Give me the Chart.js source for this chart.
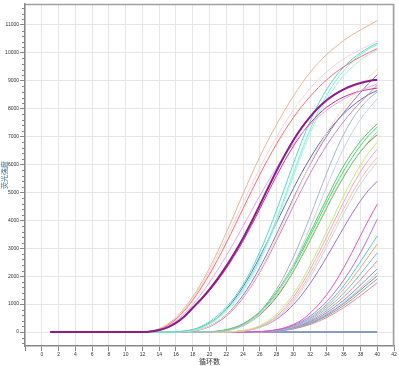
<!DOCTYPE html>
<html>
<head>
<meta charset="utf-8">
<script src="https://cdn.jsdelivr.net/npm/chart.js@4.4.1/dist/chart.umd.min.js"></script>
<style>
  html, body { margin: 0; padding: 0; background: #fff; }
  #wrap { width: 399px; height: 366px; }
</style>
</head>
<body>
<div id="wrap"><canvas id="qpcr"></canvas></div>
<script>
// ciclos y marcas de ejes
const cycles = [1,2,3,4,5,6,7,8,9,10,11,12,13,14,15,16,17,18,19,20,21,22,23,24,25,26,27,28,29,30,31,32,33,34,35,36,37,38,39,40];
const xTicks = [-2,0,2,4,6,8,10,12,14,16,18,20,22,24,26,28,30,32,34,36,38,40,42];
const yTicks = [0,1000,2000,3000,4000,5000,6000,7000,8000,9000,10000,11000];

// grupo temprano
const purpleA = [0,0,0,0,0,0,0,0,0,0,0,0,20,70,170,330,560,870,1180,1530,1920,2360,2840,3360,3940,4550,5170,5780,6350,6870,7320,7710,8040,8310,8520,8690,8820,8920,8990,9040];
const orangeA = [0,0,0,0,0,0,0,0,0,0,0,10,40,120,280,520,850,1260,1740,2290,2900,3560,4250,4950,5630,6280,6880,7430,7960,8450,8900,9300,9650,9950,10210,10440,10640,10820,10990,11150];
const redA = [0,0,0,0,0,0,0,0,0,0,0,5,30,100,240,460,760,1140,1580,2070,2610,3190,3800,4420,5040,5640,6210,6740,7230,7680,8080,8440,8760,9040,9290,9500,9690,9860,10010,10150];
const pinkA = [0,0,0,0,0,0,0,0,0,0,0,5,30,100,250,480,800,1200,1660,2180,2750,3360,3990,4630,5260,5870,6450,6990,7490,7950,8360,8730,9050,9330,9570,9780,9960,10120,10270,10420];
const lavenderA = [0,0,0,0,0,0,0,0,0,0,0,0,20,80,200,390,650,980,1360,1780,2240,2730,3250,3790,4340,4880,5400,5890,6340,6750,7110,7430,7710,7950,8160,8340,8500,8640,8770,8890];
const crimsonA = [0,0,0,0,0,0,0,0,0,0,0,0,15,60,160,320,540,840,1140,1480,1860,2280,2750,3260,3820,4410,5010,5600,6150,6660,7100,7480,7800,8060,8260,8420,8540,8630,8690,8740];

// grupo B
const cyan1 = [0,0,0,0,0,0,0,0,0,0,0,0,0,0,0,10,35,90,200,370,600,890,1250,1700,2240,2870,3580,4370,5200,6030,6830,7550,8180,8710,9140,9490,9770,10000,10190,10350];
const cyan2 = [0,0,0,0,0,0,0,0,0,0,0,0,0,0,0,5,25,70,160,310,520,790,1120,1530,2030,2620,3300,4060,4870,5700,6510,7260,7930,8500,8970,9360,9680,9940,10140,10300];
const cyan3 = [0,0,0,0,0,0,0,0,0,0,0,0,0,0,0,5,20,60,140,280,480,740,1060,1470,1960,2540,3210,3960,4760,5580,6380,7120,7780,8340,8800,9180,9490,9740,9940,10100];
const peachB = [0,0,0,0,0,0,0,0,0,0,0,0,0,0,0,0,10,40,100,210,380,610,900,1260,1690,2190,2760,3380,4040,4720,5390,6030,6620,7150,7620,8030,8400,8780,9120,9430];
const violetB = [0,0,0,0,0,0,0,0,0,0,0,0,0,0,0,0,10,40,100,210,380,620,930,1320,1780,2310,2890,3510,4150,4790,5410,6000,6540,7030,7470,7860,8230,8580,8910,9220];
const pinkB = [0,0,0,0,0,0,0,0,0,0,0,0,0,0,0,0,10,35,90,190,350,570,860,1220,1650,2140,2690,3280,3890,4510,5110,5680,6210,6700,7140,7540,7900,8230,8540,8840];
const slateB = [0,0,0,0,0,0,0,0,0,0,0,0,0,0,0,10,30,80,170,320,530,820,1180,1620,2130,2700,3300,3920,4540,5140,5710,6230,6710,7130,7500,7820,8090,8320,8510,8650];
const grayB1 = [0,0,0,0,0,0,0,0,0,0,0,0,0,0,0,0,0,0,0,0,20,60,140,270,470,740,1090,1530,2060,2680,3380,4140,4930,5710,6440,7080,7610,8030,8360,8600];
const grayB2 = [0,0,0,0,0,0,0,0,0,0,0,0,0,0,0,0,0,0,0,0,15,45,110,220,390,630,950,1350,1840,2410,3050,3750,4480,5220,5930,6580,7140,7620,8010,8350];

// grupo C (verdes)
const green1 = [0,0,0,0,0,0,0,0,0,0,0,0,0,0,0,0,0,0,0,10,35,85,170,300,490,740,1060,1440,1890,2400,2960,3560,4180,4800,5400,5960,6420,6830,7170,7460];
const green2 = [0,0,0,0,0,0,0,0,0,0,0,0,0,0,0,0,0,0,0,5,30,75,155,280,460,700,1010,1380,1820,2320,2870,3450,4050,4650,5230,5770,6250,6680,7040,7340];
const green3 = [0,0,0,0,0,0,0,0,0,0,0,0,0,0,0,0,0,0,0,5,25,65,140,255,420,650,940,1300,1720,2200,2740,3310,3900,4490,5060,5590,6060,6480,6840,7180];
const oliveC = [0,0,0,0,0,0,0,0,0,0,0,0,0,0,0,0,0,0,0,5,20,55,120,230,390,610,900,1250,1680,2170,2710,3280,3870,4460,5030,5560,6040,6460,6800,7070];

// grupo D
const ygD = [0,0,0,0,0,0,0,0,0,0,0,0,0,0,0,0,0,0,0,0,0,5,20,55,120,230,400,640,960,1360,1840,2390,2990,3620,4260,4880,5460,5980,6430,6800];
const pinkD = [0,0,0,0,0,0,0,0,0,0,0,0,0,0,0,0,0,0,0,0,0,5,15,45,100,200,350,570,870,1250,1710,2240,2820,3430,4050,4660,5230,5740,6180,6550];
const peachD = [0,0,0,0,0,0,0,0,0,0,0,0,0,0,0,0,0,0,0,0,0,5,15,40,90,180,320,520,800,1160,1590,2090,2640,3230,3830,4420,4970,5470,5900,6250];
const blueD = [0,0,0,0,0,0,0,0,0,0,0,0,0,0,0,0,0,0,0,0,0,0,10,35,80,160,290,480,740,1080,1490,1970,2500,3070,3660,4240,4790,5290,5720,6080];
const purpleD = [0,0,0,0,0,0,0,0,0,0,0,0,0,0,0,0,0,0,0,0,0,5,15,40,90,170,290,460,690,980,1330,1740,2200,2700,3220,3740,4240,4700,5090,5400];

// grupo tardío
const magentaE = [0,0,0,0,0,0,0,0,0,0,0,0,0,0,0,0,0,0,0,0,0,0,0,0,5,15,40,85,160,270,430,680,980,1350,1790,2300,2860,3450,4030,4580];
const violetE = [0,0,0,0,0,0,0,0,0,0,0,0,0,0,0,0,0,0,0,0,0,0,0,0,5,15,35,75,140,240,380,570,810,1100,1450,1860,2320,2840,3420,4040];
const cyanE = [0,0,0,0,0,0,0,0,0,0,0,0,0,0,0,0,0,0,0,0,0,0,0,0,0,10,30,65,125,215,340,510,730,990,1300,1660,2070,2520,2980,3440];
const orangeE = [0,0,0,0,0,0,0,0,0,0,0,0,0,0,0,0,0,0,0,0,0,0,0,0,0,10,25,60,115,200,320,480,680,920,1200,1530,1900,2310,2730,3150];
const skyE = [0,0,0,0,0,0,0,0,0,0,0,0,0,0,0,0,0,0,0,0,0,0,0,0,0,10,25,55,105,180,290,440,630,850,1100,1390,1720,2080,2460,2840];
const roseE = [0,0,0,0,0,0,0,0,0,0,0,0,0,0,0,0,0,0,0,0,0,0,0,0,0,5,20,50,95,165,265,400,570,770,1000,1260,1550,1870,2210,2550];
const steelE1 = [0,0,0,0,0,0,0,0,0,0,0,0,0,0,0,0,0,0,0,0,0,0,0,0,0,5,20,45,90,155,245,370,520,700,910,1140,1400,1680,1970,2260];
const steelE2 = [0,0,0,0,0,0,0,0,0,0,0,0,0,0,0,0,0,0,0,0,0,0,0,0,0,5,15,40,80,140,225,340,480,650,840,1060,1300,1560,1840,2120];
const brownE = [0,0,0,0,0,0,0,0,0,0,0,0,0,0,0,0,0,0,0,0,0,0,0,0,0,0,15,40,80,140,220,330,460,620,810,1020,1250,1500,1760,2010];
const tealE = [0,0,0,0,0,0,0,0,0,0,0,0,0,0,0,0,0,0,0,0,0,0,0,0,0,0,15,35,70,125,200,300,425,575,750,950,1170,1410,1660,1900];
const pinkE = [0,0,0,0,0,0,0,0,0,0,0,0,0,0,0,0,0,0,0,0,0,0,0,0,0,0,10,30,60,110,180,270,385,525,690,875,1080,1300,1530,1770];

// control negativo
const flatNeg = [0,0,0,0,0,0,0,0,0,0,0,0,0,0,0,0,0,0,0,0,0,0,0,0,0,0,0,0,0,0,0,0,0,0,0,0,0,0,0,0];

// [datos, color, grosor] - el primero queda encima
const lines = [
  [purpleA, '#8e1b8e', 2],
  [orangeA, '#eeb48c', 1],
  [redA, '#ff6b6b', 1],
  [pinkA, '#ffcfe0', 1],
  [lavenderA, '#dfa8ee', 1],
  [crimsonA, '#d0357c', 1],
  [cyan1, '#4fe0c0', 1],
  [cyan2, '#7ff0d8', 1],
  [cyan3, '#a8f0e8', 1],
  [peachB, '#ffd9b0', 1],
  [violetB, '#8c78d8', 1],
  [pinkB, '#d080c8', 1],
  [slateB, '#6868b8', 1],
  [grayB1, '#a8b4cc', 1],
  [grayB2, '#c8d2e2', 1],
  [green1, '#55cc55', 1],
  [green2, '#33dd77', 1],
  [green3, '#99e699', 1],
  [oliveC, '#a07850', 1],
  [ygD, '#b8f070', 1],
  [pinkD, '#ff9ccc', 1],
  [peachD, '#f8c0a0', 1],
  [blueD, '#c4d4ec', 1],
  [purpleD, '#a070d8', 1],
  [magentaE, '#f050c0', 1],
  [violetE, '#b070e8', 1],
  [cyanE, '#50c8e8', 1],
  [orangeE, '#f0a860', 1],
  [skyE, '#70b8ff', 1],
  [roseE, '#d89090', 1],
  [steelE1, '#8090d0', 1],
  [steelE2, '#a8c0e8', 1],
  [brownE, '#a88070', 1],
  [tealE, '#70b0b0', 1],
  [pinkE, '#ff8098', 1],
  [flatNeg, '#5f80b8', 1.5]
];

// marco gris y marcas menores del eje Y
const frame = {
  id: 'frame',
  afterDraw(chart) {
    const { ctx, chartArea: a, scales: { y } } = chart;
    ctx.save();
    ctx.strokeStyle = '#a0a0a0';
    ctx.lineWidth = 1.5;
    ctx.beginPath();
    ctx.moveTo(a.left, a.top + 0.5);
    ctx.lineTo(a.right - 0.5, a.top + 0.5);
    ctx.lineTo(a.right - 0.5, a.bottom);
    ctx.stroke();
    ctx.strokeStyle = '#888';
    ctx.lineWidth = 1;
    for (let v = -400; v < 11750; v += 200) {
      if (v % 1000 === 0) continue;
      const py = Math.round(y.getPixelForValue(v)) + 0.5;
      ctx.beginPath();
      ctx.moveTo(a.left - 3, py);
      ctx.lineTo(a.left, py);
      ctx.stroke();
    }
    ctx.restore();
  }
};

const tickFont = { size: 5, family: 'Liberation Sans' };
const titleFont = { size: 7, family: 'Noto Sans CJK SC' };

new Chart(document.getElementById('qpcr').getContext('2d'), {
  type: 'line',
  data: {
    datasets: lines.map(([vals, color, w]) => ({
      data: vals.map((v, i) => ({ x: cycles[i], y: v })),
      borderColor: color,
      borderWidth: w,
      pointRadius: 0,
      fill: false,
      cubicInterpolationMode: 'monotone'
    }))
  },
  options: {
    responsive: true,
    maintainAspectRatio: false,
    animation: false,
    layout: { padding: { top: 2, right: 5, left: 0, bottom: 0 } },
    plugins: { legend: { display: false }, tooltip: { enabled: false } },
    scales: {
      x: {
        type: 'linear',
        min: -2,
        max: 42,
        afterBuildTicks: s => { s.ticks = xTicks.map(v => ({ value: v })); },
        afterFit: s => { s.height = 20; },
        ticks: { font: tickFont, color: '#333', maxRotation: 0, padding: 1, autoSkip: false,
                 callback: v => (v < 0 ? '' : String(v)) },
        grid: { color: '#e6e6e6', tickLength: 5, tickColor: '#888' },
        border: { color: '#888', width: 1.5 },
        title: { display: true, text: '循环数', font: titleFont, color: '#333', padding: 0 }
      },
      y: {
        min: -500,
        max: 11750,
        afterBuildTicks: s => { s.ticks = yTicks.map(v => ({ value: v })); },
        afterFit: s => { s.width = 25; },
        ticks: { font: tickFont, color: '#333', padding: 1, autoSkip: false,
                 callback: v => String(v) },
        grid: { color: '#e6e6e6', tickLength: 5, tickColor: '#888' },
        border: { color: '#888', width: 1.5 },
        title: { display: true, text: '荧光强度', font: titleFont, color: '#3a6f8f', padding: 0 }
      }
    }
  },
  plugins: [frame]
});
</script>
</body>
</html>
